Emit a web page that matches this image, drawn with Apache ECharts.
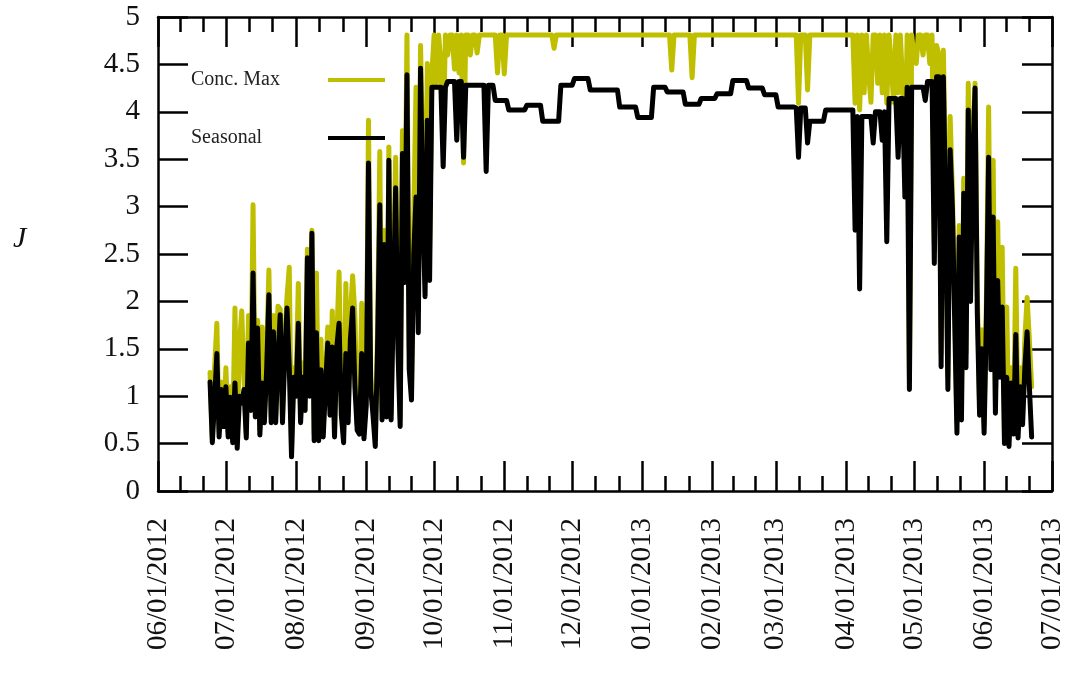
<!DOCTYPE html>
<html><head><meta charset="utf-8">
<script src="https://cdn.jsdelivr.net/npm/echarts@6/dist/echarts.min.js"></script>
<style>html,body{margin:0;padding:0;background:#fff}#c{width:1078px;height:681px}</style>
</head><body><div id="c"></div>
<script>
// ---- data ----
const firstDay = '2012-06-24';   // one value per day from here
const monthLabels = ['06/01/2012','07/01/2012','08/01/2012','09/01/2012','10/01/2012','11/01/2012',
  '12/01/2012','01/01/2013','02/01/2013','03/01/2013','04/01/2013','05/01/2013','06/01/2013','07/01/2013'];
const seriesNames = ['Conc. Max', 'Seasonal'];

// Seasonal: 24 Jun 2012 .. 30 Sep 2012
const seasonalSummer = [
  1.15,0.51,0.95,1.45,0.57,1.07,0.68,1.10,0.57,0.99,
  0.51,1.14,0.45,1.00,0.93,1.07,0.56,1.56,0.85,2.30,
  0.78,1.72,0.59,1.14,0.72,1.28,2.07,0.72,1.68,0.72,
  1.41,1.86,0.72,1.41,1.93,1.30,0.36,1.20,1.00,1.77,
  0.72,1.20,0.85,2.46,1.00,2.72,0.53,1.67,0.53,1.28,
  0.57,1.10,1.56,0.80,1.52,0.57,1.52,1.77,0.80,0.51,
  1.45,0.72,1.60,1.93,1.10,0.64,0.60,1.45,0.55,0.90,
  3.46,1.07,0.80,0.47,1.50,3.02,0.75,2.60,0.78,3.49,
  0.75,2.00,3.20,1.50,0.68,3.56,2.20,4.39,1.28,0.96,
  2.50,3.10,1.67,4.46,3.00,2.05,3.91,2.22,4.26];
// Seasonal: 1 Oct 2012 .. 4 Apr 2013
const seasonalWinter = [
  4.26,4.26,4.26,4.26,3.42,4.26,
  4.32,4.32,4.32,4.32,3.70,4.32,4.32,
  3.52,
  4.28,4.28,4.28,4.28,4.28,4.28,4.28,4.28,4.28,3.37,4.28,4.28,4.28,
  4.12,4.12,4.12,4.12,4.12,4.12,
  4.02,4.02,4.02,4.02,4.02,4.02,4.02,4.02,
  4.07,4.07,4.07,4.07,4.07,4.07,4.07,
  3.90,3.90,3.90,3.90,3.90,3.90,3.90,3.90,
  4.28,4.28,4.28,4.28,4.28,4.28,
  4.35,4.35,4.35,4.35,4.35,4.35,4.35,
  4.23,4.23,4.23,4.23,4.23,4.23,4.23,4.23,4.23,4.23,4.23,4.23,4.23,
  4.05,4.05,4.05,4.05,4.05,4.05,4.05,4.05,
  3.94,3.94,3.94,3.94,3.94,3.94,3.94,
  4.26,4.26,4.26,4.26,4.26,4.26,
  4.21,4.21,4.21,4.21,4.21,4.21,4.21,4.21,
  4.08,4.08,4.08,4.08,4.08,4.08,4.08,
  4.14,4.14,4.14,4.14,4.14,4.14,4.14,
  4.19,4.19,4.19,4.19,4.19,4.19,4.19,
  4.33,4.33,4.33,4.33,4.33,4.33,4.33,
  4.25,4.25,4.25,4.25,4.25,4.25,4.25,
  4.18,4.18,4.18,4.18,4.18,4.18,
  4.05,4.05,4.05,4.05,4.05,4.05,4.05,4.05,
  4.04,3.52,4.04,4.04,4.04,3.67,
  3.90,3.90,3.90,3.90,3.90,3.90,3.90,
  4.02,4.02,4.02,4.02,4.02,4.02,4.02,4.02,4.02,4.02,4.02,4.02,4.02];
// Seasonal: 5 Apr 2013 .. 22 Jun 2013
const seasonalSpring = [
  2.75,3.95,2.13,3.95,3.95,3.95,3.95,3.95,3.67,4.00,
  4.00,4.00,3.70,4.00,2.63,4.14,4.14,4.14,4.14,3.52,
  4.14,4.14,3.10,4.26,1.07,4.26,4.26,4.26,4.26,4.26,
  4.26,4.12,4.32,4.32,4.32,2.40,4.37,4.37,1.31,4.37,
  3.00,1.07,3.60,2.98,1.80,0.61,2.68,0.75,3.14,1.30,
  4.02,2.00,3.50,4.25,1.88,0.80,1.50,0.61,1.80,3.52,
  1.28,2.89,0.82,2.22,1.20,1.94,0.50,1.20,0.47,1.14,
  0.60,1.65,0.56,1.10,0.70,1.30,1.68,1.10,0.57];

// Conc. Max, same days
const concMaxSummer = [
  1.25,0.55,1.30,1.77,0.62,1.15,0.72,1.30,0.62,1.10,
  0.58,1.93,0.55,1.55,1.90,1.20,0.60,1.85,0.90,3.02,
  0.85,1.80,0.65,1.73,0.80,1.45,2.33,0.78,1.85,0.80,
  1.95,1.92,0.78,1.60,2.05,2.36,0.45,1.30,1.15,2.19,
  0.80,1.35,0.95,2.55,1.10,2.75,0.60,2.30,0.60,1.60,
  0.65,1.20,1.73,0.90,1.90,0.65,1.60,2.31,0.90,0.60,
  2.19,0.80,1.85,2.27,1.85,0.70,0.68,1.98,0.62,1.00,
  3.91,1.20,0.90,0.55,1.70,3.58,0.85,2.75,0.85,3.63,
  0.82,2.30,3.52,1.70,0.75,3.80,2.50,4.81,1.50,1.10,
  2.90,4.26,1.90,4.70,3.50,2.30,4.51,2.60,4.40];
const concMaxWinter = [
  4.81,4.30,4.81,4.50,3.70,4.81,4.60,4.81,4.81,4.45,
  4.81,4.41,4.81,3.46,4.81,4.81,4.60,4.81,4.81,4.62,
  4.81,4.81,4.81,4.81,4.81,4.81,4.81,4.81,4.41,4.81,
  4.81,4.40,4.81,4.81,4.81,4.81,4.81,4.81,4.81,4.81,
  4.81,4.81,4.81,4.81,4.81,4.81,4.81,4.81,4.81,4.81,
  4.81,4.81,4.81,4.67,4.81,4.81,4.81,4.81,4.81,4.81,
  4.81,4.81,4.81,4.81,4.81,4.81,4.81,4.81,4.81,4.81,
  4.81,4.81,4.81,4.81,4.81,4.81,4.81,4.81,4.81,4.81,
  4.81,4.81,4.81,4.81,4.81,4.81,4.81,4.81,4.81,4.81,
  4.81,4.81,4.81,4.81,4.81,4.81,4.81,4.81,4.81,4.81,
  4.81,4.81,4.81,4.81,4.81,4.44,4.81,4.81,4.81,4.81,
  4.81,4.81,4.81,4.81,4.36,4.81,4.81,4.81,4.81,4.81,
  4.81,4.81,4.81,4.81,4.81,4.81,4.81,4.81,4.81,4.81,
  4.81,4.81,4.81,4.81,4.81,4.81,4.81,4.81,4.81,4.81,
  4.81,4.81,4.81,4.81,4.81,4.81,4.81,4.81,4.81,4.81,
  4.81,4.81,4.81,4.81,4.81,4.81,4.81,4.81,4.81,4.81,
  4.81,4.09,4.81,4.81,4.81,4.23,4.81,4.81,4.81,4.81,
  4.81,4.81,4.81,4.81,4.81,4.81,4.81,4.81,4.81,4.81,
  4.81,4.81,4.81,4.81,4.81,4.81];
const concMaxSpring = [
  4.09,4.81,4.02,4.81,4.20,4.81,4.40,4.10,4.81,4.81,
  4.30,4.81,4.20,4.81,4.09,4.81,4.50,4.10,4.81,4.20,
  4.81,4.30,3.46,4.81,1.20,4.81,4.60,4.51,4.81,4.81,
  4.60,4.81,4.81,4.51,4.81,2.60,4.70,4.60,1.45,4.65,
  3.30,1.20,3.95,3.14,2.00,0.72,2.80,0.85,3.30,1.45,
  4.30,2.83,3.70,4.30,2.09,0.90,1.70,0.70,2.00,4.05,
  1.50,3.49,0.95,2.84,1.40,2.57,0.60,1.94,0.55,1.30,
  0.70,2.35,0.65,1.30,0.80,1.60,2.04,1.60,1.10];

// ---- build ----
const seasonal = seasonalSummer.concat(seasonalWinter, seasonalSpring);
const concMax = concMaxSummer.concat(concMaxWinter, concMaxSpring);
const [fy, fm, fd] = firstDay.split('-').map(Number);
const dayTs = i => Date.UTC(fy, fm - 1, fd + i);
const toPairs = arr => arr.map((v, i) => [dayTs(i), v]);
const parseMDY = s => { const p = s.split('/').map(Number); return Date.UTC(p[2], p[0] - 1, p[1]); };
const majorTicks = monthLabels.map(parseMDY);
const minorTicks = [];
for (let i = 0; i < majorTicks.length - 1; i++) {
  const a = majorTicks[i], b = majorTicks[i + 1];
  minorTicks.push(a + (b - a) / 3, a + 2 * (b - a) / 3);
}
const labelOf = v => { const i = majorTicks.indexOf(v); return i >= 0 ? monthLabels[i] : ''; };

const FONT = '"Liberation Serif", "DejaVu Serif", serif';
const LINE = { color: '#000', width: 2.5 };
const xMin = majorTicks[0], xMax = majorTicks[majorTicks.length - 1];

function xAx(pos, major, showLabel, showLine) {
  return {
    type: 'value', position: pos, min: xMin, max: xMax, gridIndex: 0, scale: true,
    axisLine: { show: showLine, onZero: false, lineStyle: LINE },
    axisTick: { show: true, inside: true, length: major ? 30 : 15, lineStyle: LINE,
      customValues: major ? majorTicks : minorTicks },
    axisLabel: showLabel ? { show: true, rotate: 90, margin: 27, color: '#111', fontFamily: FONT, fontSize: 29,
      customValues: majorTicks, formatter: v => labelOf(v) } : { show: false },
    splitLine: { show: false }
  };
}
function yAx(pos, showLabel) {
  return {
    type: 'value', position: pos, min: 0, max: 5, interval: 0.5, gridIndex: 0,
    axisLine: { show: true, onZero: false, lineStyle: LINE },
    axisTick: { show: true, inside: true, length: 30, lineStyle: LINE },
    axisLabel: showLabel ? { show: true, margin: 18, color: '#111', fontFamily: FONT, fontSize: 29 } : { show: false },
    splitLine: { show: false }
  };
}

const chart = echarts.init(document.getElementById('c'), null, { renderer: 'canvas' });
chart.setOption({
  animation: false,
  backgroundColor: '#fff',
  grid: { left: 158, right: 26, top: 17, bottom: 190 },
  xAxis: [xAx('bottom', true, true, true), xAx('bottom', false, false, false),
          xAx('top', true, false, true), xAx('top', false, false, false)],
  yAxis: [yAx('left', true), yAx('right', false)],
  legend: {
    left: 186, top: 65, orient: 'vertical', align: 'right', itemGap: 38,
    itemWidth: 57, itemHeight: 4, icon: 'rect',
    formatter: '{t|{name}}',
    textStyle: { fontFamily: FONT, fontSize: 20, color: '#222', lineHeight: 20,
      rich: { t: { width: 132, align: 'left', fontFamily: FONT, fontSize: 20, color: '#222' } } },
    data: seriesNames
  },
  graphic: [{ type: 'text', left: 13, top: 224,
    style: { text: 'J', font: 'italic 30px "Liberation Serif", serif', fill: '#111' } }],
  series: [
    { name: seriesNames[0], type: 'line', xAxisIndex: 0, yAxisIndex: 0, data: toPairs(concMax),
      showSymbol: false, symbol: 'none', color: '#bfbf00',
      lineStyle: { color: '#bfbf00', width: 5, cap: 'round', join: 'round' } },
    { name: seriesNames[1], type: 'line', xAxisIndex: 0, yAxisIndex: 0, data: toPairs(seasonal),
      showSymbol: false, symbol: 'none', color: '#000',
      lineStyle: { color: '#000', width: 5, cap: 'round', join: 'round' } }
  ]
});
</script></body></html>
